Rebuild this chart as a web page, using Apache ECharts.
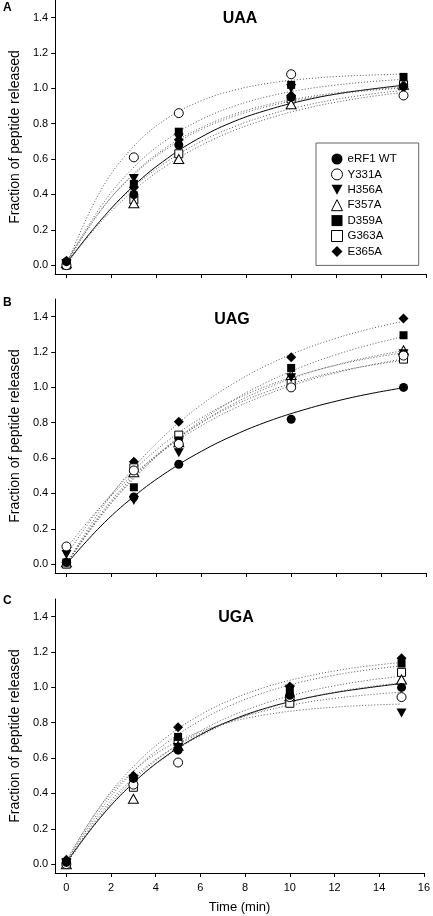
<!DOCTYPE html>
<html><head><meta charset="utf-8">
<script src="https://cdn.jsdelivr.net/npm/echarts@6/dist/echarts.min.js"></script>
<style>html,body{margin:0;padding:0;background:#fff;}#c{width:433px;height:916px;}</style>
</head><body><div id="c"></div>
<script>
// ---- data ----
const times = [0, 3, 5, 10, 15];
const fitTimes = [0, 1.5, 3, 4.5, 6, 7.5, 9, 10.5, 12, 13.5, 15];
const seriesNames = ['eRF1 WT', 'Y331A', 'H356A', 'F357A', 'D359A', 'G363A', 'E365A'];
const panelTitles = ['UAA', 'UAG', 'UGA'];
const panelLetters = ['A', 'B', 'C'];
const yTicks = [0, 0.2, 0.4, 0.6, 0.8, 1.0, 1.2, 1.4];
const xTicks = [0, 2, 4, 6, 8, 10, 12, 14, 16];

// UAA measured points
const uaaWT    = [0.02, 0.40, 0.68, 0.95, 1.01];
const uaaY331A = [0.00, 0.61, 0.86, 1.08, 0.96];
const uaaH356A = [0.01, 0.49, 0.72, 1.00, 1.00];
const uaaF357A = [0.01, 0.35, 0.60, 0.91, 1.02];
const uaaD359A = [0.01, 0.46, 0.755, 1.02, 1.065];
const uaaG363A = [0.00, 0.37, 0.63, 0.94, 1.02];
const uaaE365A = [0.025, 0.44, 0.71, 0.96, 1.01];
// UAA fitted curves (read at fitTimes)
const uaaWTFit    = [0.01, 0.25, 0.45, 0.605, 0.725, 0.815, 0.88, 0.93, 0.968, 0.995, 1.018];
const uaaY331AFit = [0.00, 0.416, 0.673, 0.832, 0.93, 0.991, 1.029, 1.052, 1.067, 1.075, 1.081];
const uaaH356AFit = [0.01, 0.303, 0.518, 0.671, 0.778, 0.855, 0.909, 0.947, 0.974, 0.993, 1.007];
const uaaF357AFit = [0.01, 0.239, 0.423, 0.567, 0.678, 0.764, 0.83, 0.882, 0.922, 0.953, 0.977];
const uaaD359AFit = [0.01, 0.326, 0.554, 0.713, 0.824, 0.901, 0.955, 0.993, 1.019, 1.038, 1.051];
const uaaG363AFit = [0.00, 0.251, 0.442, 0.588, 0.70, 0.785, 0.85, 0.90, 0.938, 0.967, 0.989];
const uaaE365AFit = [0.02, 0.307, 0.513, 0.661, 0.768, 0.844, 0.899, 0.939, 0.967, 0.988, 1.002];

// UAG measured points
const uagWT    = [0.01, 0.38, 0.565, 0.82, 1.00];
const uagY331A = [0.10, 0.53, 0.68, 1.00, 1.18];
const uagH356A = [0.055, 0.36, 0.63, 1.055, 1.19];
const uagF357A = [0.01, 0.52, 0.69, 1.07, 1.21];
const uagD359A = [0.01, 0.435, 0.70, 1.11, 1.295];
const uagG363A = [0.00, 0.545, 0.73, 1.025, 1.16];
const uagE365A = [0.01, 0.58, 0.805, 1.17, 1.39];
// UAG fitted curves
const uagWTFit    = [0.00, 0.211, 0.383, 0.523, 0.638, 0.732, 0.809, 0.871, 0.922, 0.964, 0.998];
const uagY331AFit = [0.09, 0.321, 0.508, 0.66, 0.783, 0.883, 0.964, 1.03, 1.083, 1.126, 1.161];
const uagH356AFit = [0.05, 0.319, 0.53, 0.697, 0.827, 0.93, 1.012, 1.075, 1.125, 1.165, 1.196];
const uagF357AFit = [0.00, 0.272, 0.489, 0.663, 0.801, 0.912, 1.00, 1.071, 1.127, 1.172, 1.208];
const uagD359AFit = [0.00, 0.266, 0.484, 0.664, 0.812, 0.934, 1.034, 1.117, 1.185, 1.241, 1.287];
const uagG363AFit = [0.00, 0.281, 0.499, 0.668, 0.799, 0.901, 0.979, 1.04, 1.088, 1.124, 1.153];
const uagE365AFit = [0.00, 0.303, 0.547, 0.743, 0.901, 1.027, 1.13, 1.212, 1.278, 1.331, 1.374];

// UGA measured points
const ugaWT    = [0.01, 0.485, 0.645, 0.955, 1.00];
const ugaY331A = [0.00, 0.45, 0.575, 0.945, 0.945];
const ugaH356A = [0.01, 0.47, 0.66, 0.99, 0.855];
const ugaF357A = [0.00, 0.37, 0.67, 0.95, 1.045];
const ugaD359A = [0.01, 0.465, 0.72, 0.98, 1.135];
const ugaG363A = [0.00, 0.435, 0.69, 0.91, 1.085];
const ugaE365A = [0.025, 0.50, 0.775, 1.005, 1.165];
// UGA fitted curves
const ugaWTFit    = [0.01, 0.26, 0.46, 0.615, 0.732, 0.82, 0.885, 0.933, 0.97, 0.998, 1.022];
const ugaY331AFit = [0.00, 0.284, 0.488, 0.635, 0.74, 0.816, 0.871, 0.91, 0.938, 0.958, 0.973];
const ugaH356AFit = [0.01, 0.322, 0.527, 0.662, 0.75, 0.809, 0.847, 0.872, 0.888, 0.899, 0.906];
const ugaF357AFit = [0.00, 0.26, 0.459, 0.611, 0.726, 0.815, 0.882, 0.934, 0.973, 1.003, 1.026];
const ugaD359AFit = [0.01, 0.303, 0.523, 0.688, 0.813, 0.906, 0.976, 1.03, 1.069, 1.099, 1.122];
const ugaG363AFit = [0.00, 0.27, 0.476, 0.633, 0.753, 0.845, 0.914, 0.968, 1.009, 1.04, 1.063];
const ugaE365AFit = [0.02, 0.326, 0.552, 0.72, 0.845, 0.937, 1.005, 1.055, 1.093, 1.121, 1.141];

// ---- build ----
const FONT = 'Liberation Sans, Arial, sans-serif';
const panelPoints = [
  [uaaWT, uaaY331A, uaaH356A, uaaF357A, uaaD359A, uaaG363A, uaaE365A],
  [uagWT, uagY331A, uagH356A, uagF357A, uagD359A, uagG363A, uagE365A],
  [ugaWT, ugaY331A, ugaH356A, ugaF357A, ugaD359A, ugaG363A, ugaE365A]
];
const panelFits = [
  [uaaWTFit, uaaY331AFit, uaaH356AFit, uaaF357AFit, uaaD359AFit, uaaG363AFit, uaaE365AFit],
  [uagWTFit, uagY331AFit, uagH356AFit, uagF357AFit, uagD359AFit, uagG363AFit, uagE365AFit],
  [ugaWTFit, ugaY331AFit, ugaH356AFit, ugaF357AFit, ugaD359AFit, ugaG363AFit, ugaE365AFit]
];
const triDown = 'path://M0,0L10,0L5,9Z';
const markerStyles = [
  {symbol: 'circle', size: 9, fill: '#000'},
  {symbol: 'circle', size: 9, fill: '#fff'},
  {symbol: triDown, size: [10, 9], fill: '#000'},
  {symbol: 'triangle', size: [10, 9], fill: '#fff'},
  {symbol: 'rect', size: 8, fill: '#000'},
  {symbol: 'rect', size: 8, fill: '#fff'},
  {symbol: 'diamond', size: 10, fill: '#000'}
];

const grids = [
  {left: 48, right: 7, top: 0, height: 274},
  {left: 48, right: 7, top: 299, height: 274},
  {left: 48, right: 7, top: 599, height: 274}
];
const xAxes = [], yAxes = [], series = [], graphics = [];
const titleY = [19, 320, 618];
const titleX = [240, 232, 236];
const letterY = [8, 303, 601];
for (let p = 0; p < 3; p++) {
  xAxes.push({
    type: 'value', gridIndex: p, min: -0.5, max: 16,
    axisLine: {show: true, onZero: false, lineStyle: {color: '#000', width: 1}},
    axisTick: {show: true, length: 4, inside: false, customValues: xTicks, lineStyle: {color: '#000'}},
    axisLabel: {show: p === 2, customValues: xTicks, margin: 9, color: '#000', fontSize: 11, fontFamily: FONT},
    splitLine: {show: false},
    name: p === 2 ? 'Time (min)' : '', nameLocation: 'middle', nameGap: 28,
    nameTextStyle: {fontSize: 13, color: '#000', fontFamily: FONT}
  });
  yAxes.push({
    type: 'value', gridIndex: p, min: -0.05, max: 1.5,
    axisLine: {show: true, onZero: false, lineStyle: {color: '#000', width: 1}},
    axisTick: {show: true, length: 4, customValues: yTicks, lineStyle: {color: '#000'}},
    axisLabel: {customValues: yTicks, margin: 7, color: '#000', fontSize: 11, fontFamily: FONT,
      formatter: v => v.toFixed(1)},
    splitLine: {show: false},
    name: 'Fraction of peptide released', nameLocation: 'middle', nameGap: 29, nameRotate: 90,
    nameTextStyle: {fontSize: 14, color: '#000', fontFamily: FONT}
  });
  for (let s = 0; s < 7; s++) {
    const fit = panelFits[p][s];
    series.push({
      type: 'line', name: seriesNames[s] + ' fit', xAxisIndex: p, yAxisIndex: p,
      data: fitTimes.map((t, j) => [t, fit[j]]),
      showSymbol: false, symbol: 'none', smooth: 0.4, silent: true, z: 1,
      lineStyle: s === 0 ? {color: '#000', width: 1, type: 'solid'} : {color: '#555', width: 1, type: [1, 2]}
    });
  }
  for (let s = 6; s >= 0; s--) {
    const pts = panelPoints[p][s];
    const m = markerStyles[s];
    series.push({
      type: 'scatter', name: seriesNames[s], xAxisIndex: p, yAxisIndex: p,
      data: times.map((t, j) => [t, pts[j]]),
      symbol: m.symbol, symbolSize: m.size, z: 3,
      itemStyle: {color: m.fill, borderColor: '#000', borderWidth: m.fill === '#fff' ? 1 : 0, opacity: 1}
    });
  }
  graphics.push({type: 'text', left: 3, top: letterY[p] - 6,
    style: {text: panelLetters[p], font: 'bold 12px ' + FONT, fill: '#000'}});
  graphics.push({type: 'text', x: titleX[p], y: titleY[p],
    style: {text: panelTitles[p], font: 'bold 16px ' + FONT, fill: '#000', align: 'center', verticalAlign: 'middle'}});
}

const chart = echarts.init(document.getElementById('c'), null, {renderer: 'canvas'});
chart.setOption({
  animation: false,
  backgroundColor: '#fff',
  grid: grids,
  xAxis: xAxes,
  yAxis: yAxes,
  legend: {
    orient: 'vertical', left: 316, top: 143,
    itemWidth: 11, itemHeight: 11, itemGap: 3.4,
    padding: [10, 22, 8, 15],
    borderColor: '#666', borderWidth: 1,
    selectedMode: false,
    textStyle: {fontSize: 11.5, color: '#000', fontFamily: FONT},
    data: seriesNames.map((n, i) => ({
      name: n,
      icon: markerStyles[i].symbol,
      itemStyle: {color: markerStyles[i].fill, borderColor: '#000', borderWidth: markerStyles[i].fill === '#fff' ? 1 : 0}
    }))
  },
  graphic: graphics,
  series: series
});
</script></body></html>
